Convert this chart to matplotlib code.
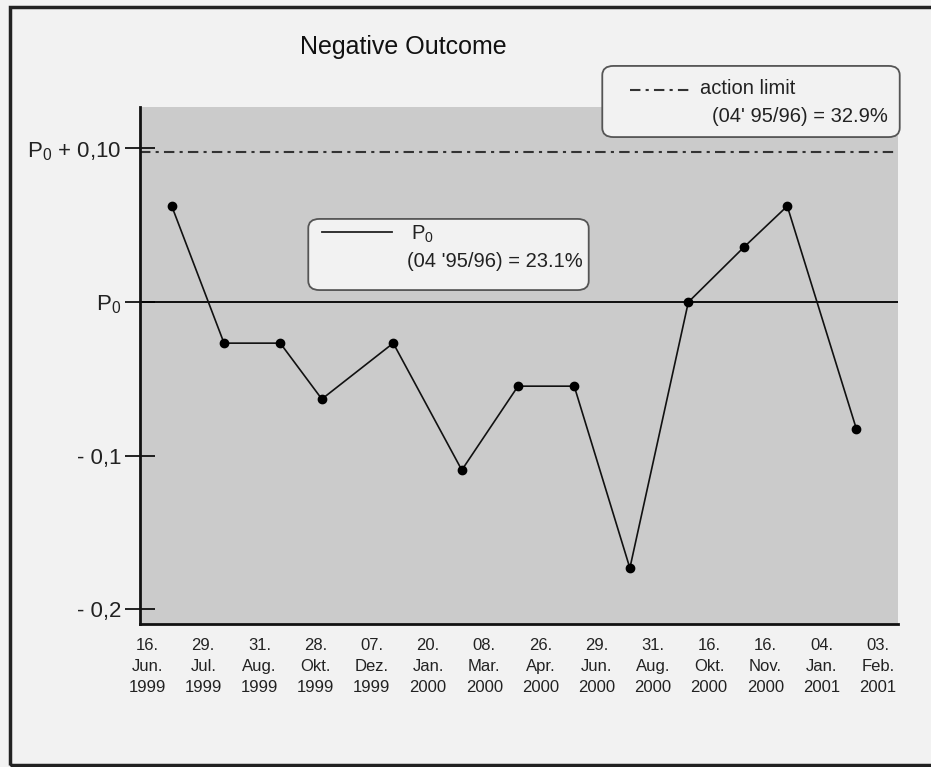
import matplotlib
matplotlib.use('Agg')
import matplotlib.pyplot as plt
from matplotlib.patches import FancyBboxPatch, Rectangle
from matplotlib.lines import Line2D

# sampling dates shown under the axis
DATE_LABELS = ['16.\nJun.\n1999', '29.\nJul.\n1999', '31.\nAug.\n1999', '28.\nOkt.\n1999',
               '07.\nDez.\n1999', '20.\nJan.\n2000', '08.\nMar.\n2000', '26.\nApr.\n2000',
               '29.\nJun.\n2000', '31.\nAug.\n2000', '16.\nOkt.\n2000', '16.\nNov.\n2000',
               '04.\nJan.\n2001', '03.\nFeb.\n2001']

# deviation from P0 for each period, x in label-index units
point_x = [0.44, 1.37, 2.37, 3.11, 4.38, 5.60, 6.60, 7.60, 8.59, 9.63, 10.62, 11.39, 12.62]
deviation = [0.0625, -0.0267, -0.0267, -0.0631, -0.0267, -0.1093, -0.0547, -0.0547,
             -0.1731, 0.0, 0.0358, 0.0625, -0.0826]

y_ticks = [0.10, 0.0, -0.1, -0.2]
y_tick_labels = [r'$\mathregular{P_0}$ + 0,10', r'$\mathregular{P_0}$', '- 0,1', '- 0,2']

P0 = 0.0
ACTION_LIMIT = 0.098

W, H = 931, 767
plt.rcParams['font.family'] = ['Liberation Sans', 'DejaVu Sans']
plt.rcParams['mathtext.default'] = 'regular'


def fx(x):
    return x / W


def fy(y):
    return 1 - y / H


fig = plt.figure(figsize=(W / 100, H / 100), dpi=100)
fig.patch.set_facecolor('#f2f2f2')

# outer frame (left, top, bottom; right edge falls off the scan)
fig.patches.append(Rectangle((fx(10), fy(765)), fx(940) - fx(10), fy(7) - fy(765),
                             transform=fig.transFigure, fill=False, edgecolor='#222222',
                             linewidth=2.5, clip_on=False))

ax = fig.add_axes([fx(140), fy(624), fx(898) - fx(140), fy(107) - fy(624)])
ax.set_facecolor('#cbcbcb')

ax.axhline(P0, color='black', linewidth=1.3)
ax.axhline(ACTION_LIMIT, color='#333333', linewidth=1.5, linestyle=(0, (5, 2.5, 1.5, 2.5)))
ax.plot(point_x, deviation, color='#111111', linewidth=1.2, marker='o', markersize=6,
        markerfacecolor='black', markeredgecolor='black')

ax.set_xlim(-0.125, 13.36)
ax.set_ylim(-0.2095, 0.127)
ax.set_xticks(range(len(DATE_LABELS)))
ax.set_xticklabels(DATE_LABELS, fontsize=12, linespacing=1.5, color='#222222')
ax.tick_params(axis='x', length=0, pad=10)
ax.set_yticks(y_ticks)
ax.set_yticklabels(y_tick_labels, fontsize=16, color='#222222')
ax.tick_params(axis='y', direction='inout', length=21, width=1.2, pad=3)

for side in ['top', 'right']:
    ax.spines[side].set_visible(False)
for side in ['left', 'bottom']:
    ax.spines[side].set_linewidth(2)
    ax.spines[side].set_color('#111111')

fig.text(fx(403), fy(47), 'Negative Outcome', fontsize=18, ha='center', va='center',
         color='#111111')

# legend box for P0
fig.patches.append(FancyBboxPatch((fx(312), fy(287)), fx(585) - fx(312), fy(222) - fy(287),
                                  boxstyle='round,pad=0.004,rounding_size=0.012',
                                  transform=fig.transFigure, facecolor='#f2f2f2',
                                  edgecolor='#555555', linewidth=1.3))
fig.lines.append(Line2D([fx(322), fx(392)], [fy(232), fy(232)], transform=fig.transFigure,
                        color='#222222', linewidth=1.3))
fig.text(fx(411), fy(234), r'$\mathregular{P_0}$', fontsize=14.5, va='center', color='#222222')
fig.text(fx(583), fy(262), "(04 '95/96) = 23.1%", fontsize=14.5, ha='right', va='center',
         color='#222222')

# legend box for action limit
fig.patches.append(FancyBboxPatch((fx(606), fy(134)), fx(896) - fx(606), fy(69) - fy(134),
                                  boxstyle='round,pad=0.004,rounding_size=0.012',
                                  transform=fig.transFigure, facecolor='#f2f2f2',
                                  edgecolor='#555555', linewidth=1.3))
fig.lines.append(Line2D([fx(630), fx(692)], [fy(90), fy(90)], transform=fig.transFigure,
                        color='#333333', linewidth=1.5, linestyle=(0, (5, 2.5, 1.5, 2.5))))
fig.text(fx(700), fy(89), 'action limit', fontsize=14.5, va='center', color='#222222')
fig.text(fx(888), fy(117), "(04' 95/96) = 32.9%", fontsize=14.5, ha='right', va='center',
         color='#222222')

fig.savefig('out.png', dpi=100, facecolor=fig.get_facecolor())
